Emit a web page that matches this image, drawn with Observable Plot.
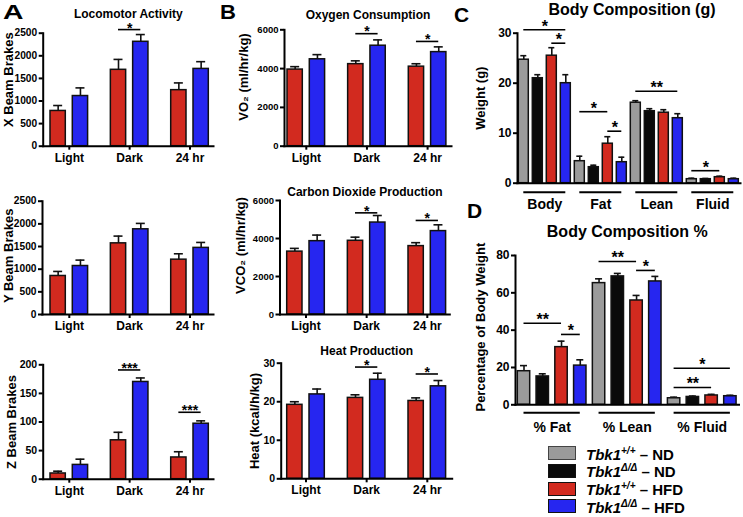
<!DOCTYPE html>
<html>
<head>
<meta charset="utf-8">
<script src="https://cdn.jsdelivr.net/npm/d3@7"></script>
<script src="https://cdn.jsdelivr.net/npm/@observablehq/plot@0.6"></script>
<style>
  html, body { margin: 0; padding: 0; background: #fff; }
  #fig { position: relative; width: 743px; height: 517px; overflow: hidden; background: #fff;
         font-family: "Liberation Sans", Arial, Helvetica, sans-serif; color: #000; }
  #fig svg { position: absolute; left: 0; top: 0; }
  .letter { position: absolute; font-weight: bold; font-size: 21px; line-height: 1; transform-origin: left top; }
  .sw { position: absolute; width: 26px; height: 12px; border: 1.5px solid #111; }
  .lt { position: absolute; font-size: 15px; font-weight: bold; line-height: 1; transform: translateY(-50%); white-space: nowrap; }
  .lt .sup { font-size: 10px; font-style: italic; position: relative; top: -6px; }
</style>
</head>
<body>
<div id="fig"></div>
<script>
// ---------- categories ----------
const periods = ["Light", "Dark", "24 hr"];
const bodyParts = ["Body", "Fat", "Lean", "Fluid"];
const percentParts = ["% Fat", "% Lean", "% Fluid"];
const genotypeNames = ["Tbk1", "Tbk1", "Tbk1", "Tbk1"];
const genotypeSups = ["+/+", "Δ/Δ", "+/+", "Δ/Δ"];
const dietNames = ["ND", "ND", "HFD", "HFD"];
const colors4 = ["#9b9b9b", "#0a0a0a", "#d22a1f", "#2626f0"];
const colorsHFD = ["#d22a1f", "#2626f0"];

// ---------- panel A ----------
const xBeamWT = [780, 1690, 1240];
const xBeamWTErr = [120, 230, 160];
const xBeamKO = [1110, 2310, 1710];
const xBeamKOErr = [180, 160, 160];
const xBeamSig = [{group: "Dark", from: 0, to: 1, level: 2580, label: "*"}];

const yBeamWT = [850, 1570, 1210];
const yBeamWTErr = [100, 160, 130];
const yBeamKO = [1070, 1880, 1470];
const yBeamKOErr = [130, 130, 120];
const yBeamSig = [];

const zBeamWT = [10, 68, 38];
const zBeamWTErr = [4, 14, 10];
const zBeamKO = [25, 170, 97];
const zBeamKOErr = [10, 7, 5];
const zBeamSig = [
  {group: "Dark", from: 0, to: 1, level: 191, label: "***"},
  {group: "24 hr", from: 0, to: 1, level: 117, label: "***"}
];

// ---------- panel B ----------
const vo2WT = [3950, 4230, 4100];
const vo2WTErr = [150, 170, 150];
const vo2KO = [4480, 5180, 4850];
const vo2KOErr = [240, 300, 270];
const vo2Sig = [
  {group: "Dark", from: 0, to: 1, level: 5800, label: "*"},
  {group: "24 hr", from: 0, to: 1, level: 5400, label: "*"}
];

const vco2WT = [3310, 3880, 3600];
const vco2WTErr = [170, 190, 180];
const vco2KO = [3860, 4840, 4390];
const vco2KOErr = [320, 370, 330];
const vco2Sig = [
  {group: "Dark", from: 0, to: 1, level: 5350, label: "*"},
  {group: "24 hr", from: 0, to: 1, level: 4950, label: "*"}
];

const heatWT = [19.2, 21.0, 20.2];
const heatWTErr = [0.8, 0.8, 0.8];
const heatKO = [21.9, 25.7, 24.0];
const heatKOErr = [1.4, 1.7, 1.5];
const heatSig = [
  {group: "Dark", from: 0, to: 1, level: 29, label: "*"},
  {group: "24 hr", from: 0, to: 1, level: 27.2, label: "*"}
];

// ---------- panel C (g) ----------
const massNDWT = [24.7, 4.4, 16.1, 0.8];
const massNDWTErr = [0.8, 1.0, 0.4, 0.2];
const massNDKO = [21.0, 3.2, 14.4, 0.8];
const massNDKOErr = [0.7, 0.4, 0.5, 0.15];
const massHFDWT = [25.5, 7.9, 14.1, 1.2];
const massHFDWTErr = [1.6, 1.4, 0.6, 0.2];
const massHFDKO = [20.0, 4.2, 13.0, 0.8];
const massHFDKOErr = [1.7, 1.0, 0.9, 0.2];
const massSig = [
  {group: "Body", from: 0, to: 3, level: 30.7, label: "*"},
  {group: "Body", from: 2, to: 3, level: 28.0, label: "*"},
  {group: "Fat", from: 0, to: 2, level: 14.3, label: "*"},
  {group: "Fat", from: 2, to: 3, level: 10.4, label: "*"},
  {group: "Lean", from: 0, to: 3, level: 18.4, label: "**"},
  {group: "Fluid", from: 0, to: 2, level: 2.5, label: "*"}
];

// ---------- panel D (%) ----------
const pctNDWT = [18.0, 65.2, 3.5];
const pctNDWTErr = [3.0, 2.3, 0.6];
const pctNDKO = [15.2, 68.8, 4.2];
const pctNDKOErr = [1.4, 1.6, 0.5];
const pctHFDWT = [30.9, 55.9, 5.0];
const pctHFDWTErr = [3.2, 2.7, 0.6];
const pctHFDKO = [21.0, 66.1, 4.6];
const pctHFDKOErr = [3.1, 2.7, 0.5];
const pctSig = [
  {group: "% Fat", from: 0, to: 2, level: 43.7, label: "**"},
  {group: "% Fat", from: 2, to: 3, level: 37.7, label: "*"},
  {group: "% Lean", from: 0, to: 2, level: 76.8, label: "**"},
  {group: "% Lean", from: 2, to: 3, level: 72, label: "*"},
  {group: "% Fluid", from: 0, to: 3, level: 19.6, label: "*"},
  {group: "% Fluid", from: 0, to: 2, level: 9.3, label: "**"}
];

// ---------- chart builder ----------
const W = 743, H = 517;
const FONT = "'Liberation Sans', Arial, Helvetica, sans-serif";

function chart(c) {
  const [L, R, T, B] = c.frame;
  const nS = c.means.length, nG = c.groups.length;
  const Bw = (nS - 1) * c.barStep + c.barW;
  const F = R - L;
  const outer = F - (nG - 1) * c.groupStep - Bw;
  const pi = (c.groupStep - Bw) / c.groupStep;
  const po = outer / (2 * c.groupStep);
  const align = Math.max(0, Math.min(1, (c.firstBar - L) / outer));
  const cap = c.capW;
  const marks = [];
  c.means.forEach((vals, si) => {
    const data = c.groups.map((g, gi) => ({group: g, mean: vals[gi], err: c.errs[si][gi]}));
    const off = si * c.barStep;
    marks.push(Plot.barY(data, {x: "group", y: "mean", fill: c.colors[si], stroke: "#111", strokeWidth: 1.5,
      insetLeft: off, insetRight: Bw - off - c.barW}));
    const ctr = off + c.barW / 2;
    marks.push(Plot.ruleX(data, {x: "group", y1: "mean", y2: d => d.mean + d.err, dx: ctr - Bw / 2, strokeWidth: 1.6, stroke: "#111"}));
    marks.push(Plot.tickY(data, {x: "group", y: d => d.mean + d.err, insetLeft: ctr - cap / 2, insetRight: Bw - ctr - cap / 2, strokeWidth: 1.6, stroke: "#111"}));
  });
  c.sigs.forEach(s => {
    const a = s.from * c.barStep + c.barW / 2, b = s.to * c.barStep + c.barW / 2;
    marks.push(Plot.ruleY([s], {x1: "group", x2: "group", y: "level", insetLeft: a, insetRight: Bw - b, strokeWidth: 1.6}));
    marks.push(Plot.text([s], {x: "group", y: "level", text: "label", dx: (a + b) / 2 - Bw / 2, dy: c.starDy,
      fontSize: c.starSize, fontWeight: "bold", lineAnchor: "middle"}));
  });
  if (c.underline) {
    marks.push(Plot.ruleY(c.groups, {x1: d => d, x2: d => d, y: () => 0, dy: c.underline,
      insetLeft: c.barW / 2, insetRight: c.barW / 2, strokeWidth: 2}));
  }
  marks.push(Plot.axisY({ticks: c.yTicks, tickFormat: d => String(d), tickSize: 4, tickPadding: 2,
    fontSize: c.yTickFont, fontWeight: "bold", strokeWidth: 2, label: null}));
  marks.push(Plot.axisX({tickSize: c.xTickSize, tickPadding: c.xTickPad, fontSize: c.xFont, fontWeight: "bold",
    strokeWidth: 2, label: null}));
  marks.push(Plot.frame({anchor: "left", strokeWidth: 2}));
  marks.push(Plot.frame({anchor: "bottom", strokeWidth: 2}));
  marks.push(Plot.text([c.yLabel], {text: d => d, frameAnchor: "left", rotate: -90, dx: c.yLabelDx, dy: c.yLabelDy,
    fontSize: 13, fontWeight: "bold", textAnchor: "middle", lineAnchor: "middle"}));
  if (c.title) {
    marks.push(Plot.text([c.title], {text: d => d, frameAnchor: "top", dx: c.titleDx || 0, dy: c.titleDy,
      fontSize: c.titleSize, fontWeight: "bold", lineAnchor: "middle"}));
  }
  return Plot.plot({
    width: W, height: H,
    marginLeft: L, marginRight: W - R, marginTop: T, marginBottom: H - B,
    x: {type: "band", domain: c.groups, paddingInner: pi, paddingOuter: po, align, round: false},
    y: {domain: [0, c.yMax]},
    style: {background: "transparent", fontFamily: FONT, color: "#000", overflow: "visible"},
    marks
  });
}

const abBase = {groups: periods, colors: colorsHFD, barW: 15.3, barStep: 22.3, capW: 9,
  xTickSize: 4, xTickPad: 3, xFont: 12, starSize: 14, starDy: -1.8, titleSize: 12};
const fig = document.getElementById("fig");

const specs = [
  {...abBase, frame: [42.7, 213, 32.7, 145.7], firstBar: 50, groupStep: 60.35,
   means: [xBeamWT, xBeamKO], errs: [xBeamWTErr, xBeamKOErr], sigs: xBeamSig, starDy: -1,
   yMax: 2500, yTicks: [0, 500, 1000, 1500, 2000, 2500], yTickFont: 10.2,
   yLabel: "X Beam Brakes", yLabelDx: -34.5, yLabelDy: -10, title: "Locomotor Activity", titleDy: -19.5},
  {...abBase, frame: [42, 213, 200.7, 314], firstBar: 50, groupStep: 60.35,
   means: [yBeamWT, yBeamKO], errs: [yBeamWTErr, yBeamKOErr], sigs: yBeamSig,
   yMax: 2500, yTicks: [0, 500, 1000, 1500, 2000, 2500], yTickFont: 10.2,
   yLabel: "Y Beam Brakes", yLabelDx: -34, yLabelDy: -2},
  {...abBase, frame: [42.7, 213, 364.3, 478.7], firstBar: 50, groupStep: 60.35,
   means: [zBeamWT, zBeamKO], errs: [zBeamWTErr, zBeamKOErr], sigs: zBeamSig,
   yMax: 200, yTicks: [0, 50, 100, 150, 200], yTickFont: 10.5,
   yLabel: "Z Beam Brakes", yLabelDx: -31, yLabelDy: 0},
  {...abBase, frame: [284, 451, 29.3, 145.7], firstBar: 287, groupStep: 60.65,
   means: [vo2WT, vo2KO], errs: [vo2WTErr, vo2KOErr], sigs: vo2Sig,
   yMax: 6000, yTicks: [0, 2000, 4000, 6000], yTickFont: 9.5,
   yLabel: "VO₂ (ml/hr/kg)", yLabelDx: -41, yLabelDy: -11, title: "Oxygen Consumption", titleDy: -14.8},
  {...abBase, frame: [279.5, 449.3, 200, 314], firstBar: 286.7, groupStep: 60.65,
   means: [vco2WT, vco2KO], errs: [vco2WTErr, vco2KOErr], sigs: vco2Sig,
   yMax: 6000, yTicks: [0, 2000, 4000, 6000], yTickFont: 9.5,
   yLabel: "VCO₂ (ml/hr/kg)", yLabelDx: -39.5, yLabelDy: -12, title: "Carbon Dioxide Production", titleDy: -8.8},
  {...abBase, frame: [280.7, 451.7, 362.7, 478.3], firstBar: 286.7, groupStep: 60.65,
   means: [heatWT, heatKO], errs: [heatWTErr, heatKOErr], sigs: heatSig,
   yMax: 30, yTicks: [0, 10, 20, 30], yTickFont: 10.5,
   yLabel: "Heat (kcal/h/kg)", yLabelDx: -26, yLabelDy: 0, title: "Heat Production", titleDy: -12.5},
  {groups: bodyParts, colors: colors4, barW: 10, barStep: 14, capW: 6, groupStep: 56,
   frame: [517, 740, 32.7, 182.7], firstBar: 518.3,
   means: [massNDWT, massNDKO, massHFDWT, massHFDKO], errs: [massNDWTErr, massNDKOErr, massHFDWTErr, massHFDKOErr],
   sigs: massSig, yMax: 30, yTicks: [0, 10, 20, 30], yTickFont: 12,
   xTickSize: 0, xTickPad: 16, xFont: 14, underline: 9, starSize: 16, starDy: -3.3,
   yLabel: "Weight (g)", yLabelDx: -37, yLabelDy: -10,
   title: "Body Composition (g)", titleDy: -23.4, titleDx: 3, titleSize: 16},
  {groups: percentParts, colors: colors4, barW: 12.4, barStep: 18.76, capW: 7, groupStep: 75.05,
   frame: [515, 738.5, 255, 404.3], firstBar: 517.3,
   means: [pctNDWT, pctNDKO, pctHFDWT, pctHFDKO], errs: [pctNDWTErr, pctNDKOErr, pctHFDWTErr, pctHFDKOErr],
   sigs: pctSig, yMax: 80, yTicks: [0, 20, 40, 60, 80], yTickFont: 12,
   xTickSize: 0, xTickPad: 17.5, xFont: 14, underline: 8, starSize: 16, starDy: -3.3,
   yLabel: "Percentage of Body Weight", yLabelDx: -35, yLabelDy: -3,
   title: "Body Composition %", titleDy: -23.3, titleSize: 16}
];

specs.forEach(s => fig.appendChild(chart(s)));

// panel letters
const letters = [["A", 3, 1, 1.35], ["B", 220, 1, 1.05], ["C", 454, 4, 1], ["D", 467, 200, 1]];
letters.forEach(([t, x, y, sx]) => {
  const d = document.createElement("div");
  d.className = "letter"; d.textContent = t;
  d.style.left = x + "px"; d.style.top = y + "px";
  d.style.transform = "scaleX(" + sx + ")";
  fig.appendChild(d);
});

// legend
const legendTops = [446, 463.5, 481.5, 499];
genotypeNames.forEach((g, i) => {
  const sw = document.createElement("div");
  sw.className = "sw";
  sw.style.left = "548px"; sw.style.top = legendTops[i] + "px";
  sw.style.background = colors4[i];
  if (i === 0) sw.style.borderColor = "#444";
  fig.appendChild(sw);
  const lt = document.createElement("div");
  lt.className = "lt";
  lt.style.left = "586px"; lt.style.top = (legendTops[i] + 7.5) + "px";
  const it = document.createElement("i"); it.textContent = g;
  const sp = document.createElement("span"); sp.className = "sup"; sp.textContent = genotypeSups[i];
  lt.appendChild(it); lt.appendChild(sp);
  lt.appendChild(document.createTextNode(" – " + dietNames[i]));
  fig.appendChild(lt);
});
</script>
</body>
</html>
